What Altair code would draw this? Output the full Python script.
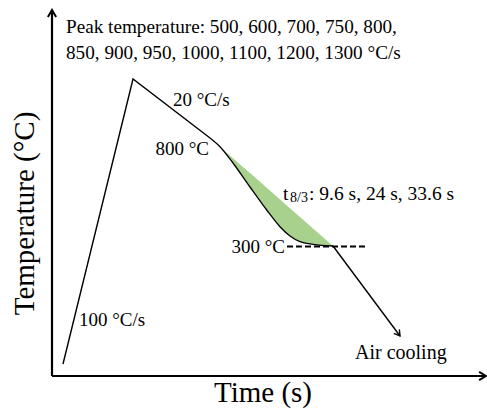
import math
import altair as alt
import pandas as pd
import numpy as np

# Schematic coordinates (arbitrary units, origin at the axes' corner)
heat_t = [11, 81, 158]
heat_T = [12, 297, 238]
curve_t = [158, 168, 181, 198, 214.7, 228, 238, 248, 261, 281]
curve_T = [238, 229.3, 213, 189, 166, 149.3, 140, 134.3, 131.7, 130]
edge_t = [158, 281]
edge_T = [238, 130]
cool_t = [281, 348]
cool_T = [130, 40]
iso_t = [235, 316]
iso_T = [129.5, 129.5]
xaxis_t = [0, 434]
xaxis_T = [0, 0]
yaxis_t = [0, 0]
yaxis_T = [0, 366]

label_text = ["Peak temperature: 500, 600, 700, 750, 800,",
              "850, 900, 950, 1000, 1100, 1200, 1300 \u00b0C/s",
              "20 \u00b0C/s", "100 \u00b0C/s", "Air cooling",
              "t", "8/3", ": 9.6 s, 24 s, 33.6 s"]
label_t = [14, 14, 121, 27, 303, 231, 238, 257]
label_T = [349, 323, 276, 56, 23, 182, 178, 182]
label_fs = [19.2, 19.2, 19, 19, 20, 19.5, 14, 19.5]

right_text = ["800 \u00b0C", "300 \u00b0C"]
right_t = [157, 233]
right_T = [227, 129]

font = "Liberation Serif"
X = lambda: alt.X("t:Q", scale=alt.Scale(domain=[-52, 435], nice=False, zero=False), axis=None)
Y = lambda: alt.Y("T:Q", scale=alt.Scale(domain=[-33, 376], nice=False, zero=False), axis=None)

segs = []
for name, ts, Ts in [("heat", heat_t, heat_T), ("cool", cool_t, cool_T)]:
    for i, (a, b) in enumerate(zip(ts, Ts)):
        segs.append({"seg": name, "t": a, "T": b, "o": i})
seg_df = pd.DataFrame(segs)
curve_df = pd.DataFrame({"t": curve_t, "T": curve_T, "o": range(len(curve_t))})
area_df = pd.DataFrame({"t": curve_t, "T": curve_T,
                        "T2": np.interp(curve_t, edge_t, edge_T)})
iso_df = pd.DataFrame({"t": iso_t, "T": iso_T})
axes_df = pd.DataFrame({"seg": ["x", "x", "y", "y"],
                        "t": xaxis_t + yaxis_t, "T": xaxis_T + yaxis_T, "o": [0, 1, 0, 1]})

ang_cool = math.degrees(math.atan2(cool_t[1] - cool_t[0], cool_T[1] - cool_T[0])) % 360
arrow_df = pd.DataFrame({"t": [xaxis_t[1], yaxis_t[1], cool_t[1]],
                         "T": [xaxis_T[1], yaxis_T[1], cool_T[1]],
                         "ang": [90, 0, ang_cool], "sz": [190, 190, 130], "sw": [2, 2, 1.4]})

area = alt.Chart(area_df).mark_area(color="#a9d18e", opacity=1, interpolate="monotone").encode(
    x=X(), y=Y(), y2="T2:Q")
lines = alt.Chart(seg_df).mark_line(color="black", strokeWidth=1.4).encode(
    x=X(), y=Y(), detail="seg:N", order="o:Q")
curve = alt.Chart(curve_df).mark_line(color="black", strokeWidth=1.3, interpolate="monotone").encode(
    x=X(), y=Y(), order="o:Q")
iso = alt.Chart(iso_df).mark_line(color="black", strokeWidth=2, strokeDash=[6, 3]).encode(x=X(), y=Y())
axes = alt.Chart(axes_df).mark_line(color="black", strokeWidth=2.2).encode(
    x=X(), y=Y(), detail="seg:N", order="o:Q")
arrows = alt.Chart(arrow_df).mark_point(
    shape="M-0.6,1 L0,0 L0.6,1", filled=False, color="black", opacity=1).encode(
    x=X(), y=Y(), angle=alt.Angle("ang:Q", scale=None), size=alt.Size("sz:Q", scale=None),
    strokeWidth=alt.StrokeWidth("sw:Q", scale=None))

lab_df = pd.DataFrame({"text": label_text, "t": label_t, "T": label_T, "fs": label_fs})
labels = alt.Chart(lab_df).mark_text(align="left", baseline="middle", font=font, color="black").encode(
    x=X(), y=Y(), text="text:N", size=alt.Size("fs:Q", scale=None))
rlab_df = pd.DataFrame({"text": right_text, "t": right_t, "T": right_T})
rlabels = alt.Chart(rlab_df).mark_text(align="right", baseline="middle", font=font, fontSize=19,
                                       color="black").encode(x=X(), y=Y(), text="text:N")
titles_df = pd.DataFrame({"text": ["Time (s)", "Temperature (\u00b0C)"], "t": [211, -27],
                          "T": [-17, 162.5], "ang": [0, 270]})
titles = alt.Chart(titles_df).mark_text(align="center", baseline="middle", font=font, fontSize=29,
                                        color="black").encode(
    x=X(), y=Y(), text="text:N", angle=alt.Angle("ang:Q", scale=None))

chart = alt.layer(area, lines, curve, iso, axes, arrows, labels, rlabels, titles).properties(
    width=487, height=409, autosize=alt.AutoSizeParams(type="none"), padding=0,
    background="white").configure_view(stroke=None)

chart.save("out.html", embed_options={"renderer": "svg", "actions": False})
